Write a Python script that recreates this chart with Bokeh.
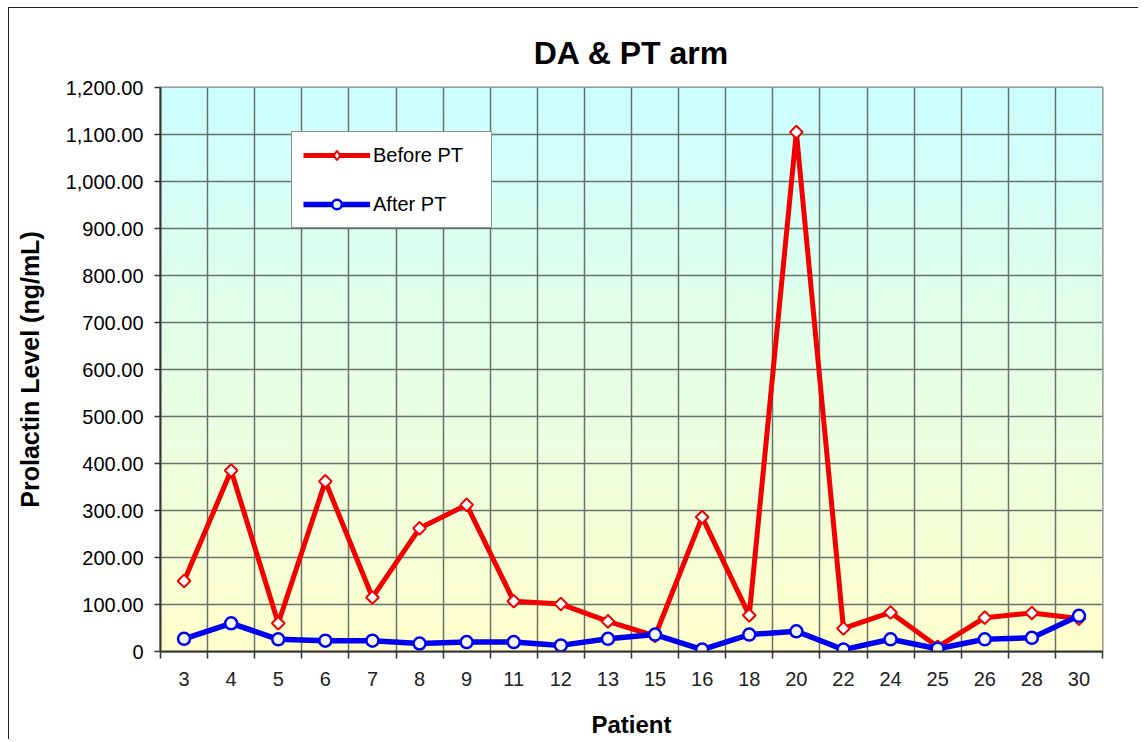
import numpy as np
from bokeh.plotting import figure
from bokeh.models import Range1d, FixedTicker, Legend, LegendItem
from bokeh.embed import file_html
from bokeh.resources import INLINE

# ---- data ----
patients = ["3", "4", "5", "6", "7", "8", "9", "11", "12", "13",
            "15", "16", "18", "20", "22", "24", "25", "26", "28", "30"]
before_pt = [150, 385, 60, 362, 115, 262, 312, 107, 101, 64,
             33, 286, 77, 1105, 49, 83, 10, 72, 82, 70]
after_pt = [27, 60, 26, 23, 23, 17, 20, 20, 13, 27,
            36, 4, 36, 43, 4, 26, 6, 26, 29, 76]
y_ticks = [0, 100, 200, 300, 400, 500, 600, 700, 800, 900, 1000, 1100, 1200]
y_tick_labels = ["0", "100.00", "200.00", "300.00", "400.00", "500.00", "600.00",
                 "700.00", "800.00", "900.00", "1,000.00", "1,100.00", "1,200.00"]

n = len(patients)
xc = [i + 0.5 for i in range(n)]
y_max = y_ticks[-1]

FONT = "Liberation Sans"
GRID = "#68716d"

p = figure(width=1130, height=732, output_backend="svg", toolbar_location=None,
           x_range=Range1d(0, n), y_range=Range1d(0, y_max),
           min_border_left=151, min_border_right=37, min_border_top=79, min_border_bottom=89,
           title="DA & PT arm")
p.styles = {"border-left": "1px solid #222", "border-top": "1px solid #222",
            "margin-left": "8px", "margin-top": "7px"}

# gradient background (cyan top -> light yellow bottom)
N = 256
img = np.empty((N, 2), dtype=np.uint32)
view = img.view(dtype=np.uint8).reshape((N, 2, 4))
top = np.array([204, 255, 255])
bot = np.array([255, 255, 204])
for r in range(N):
    t = r / (N - 1)
    c = bot * (1 - t) + top * t
    view[r, :, 0] = int(c[0])
    view[r, :, 1] = int(c[1])
    view[r, :, 2] = int(c[2])
    view[r, :, 3] = 255
p.image_rgba(image=[img], x=0, y=0, dw=n, dh=y_max, level="image")

# title
p.title.text_font = FONT
p.title.text_font_size = "32px"
p.title.text_font_style = "bold"
p.title.text_color = "#000000"
p.title.align = "center"
p.title.standoff = 34

p.outline_line_color = "#808080"
p.outline_line_width = 2

# x axis: labels at centres, ticks/grid at boundaries
xt = FixedTicker(ticks=xc, minor_ticks=list(range(n + 1)))
p.xaxis.ticker = xt
p.xaxis.major_label_overrides = {x: lab for x, lab in zip(xc, patients)}
p.xaxis.major_tick_line_color = None
p.xaxis.minor_tick_line_color = "#333333"
p.xaxis.minor_tick_line_width = 1.5
p.xaxis.minor_tick_out = 7
p.xaxis.minor_tick_in = 0
p.xaxis.axis_line_color = "#333333"
p.xaxis.axis_line_width = 2
p.xaxis.major_label_text_font = FONT
p.xaxis.major_label_text_font_size = "20px"
p.xaxis.major_label_text_color = "#222222"
p.xaxis.major_label_standoff = 13
p.xaxis.axis_label = "Patient"
p.xaxis.axis_label_text_font = FONT
p.xaxis.axis_label_text_font_size = "24px"
p.xaxis.axis_label_text_font_style = "bold"
p.xaxis.axis_label_text_color = "#000000"
p.xaxis.axis_label_standoff = 22
p.xgrid.grid_line_color = None
p.xgrid.minor_grid_line_color = GRID
p.xgrid.minor_grid_line_width = 1.5

# y axis
p.yaxis.ticker = FixedTicker(ticks=y_ticks)
p.yaxis.major_label_overrides = {v: s for v, s in zip(y_ticks, y_tick_labels)}
p.yaxis.minor_tick_line_color = None
p.yaxis.major_tick_line_color = "#333333"
p.yaxis.major_tick_line_width = 1.5
p.yaxis.major_tick_out = 6
p.yaxis.major_tick_in = 0
p.yaxis.axis_line_color = "#333333"
p.yaxis.axis_line_width = 2
p.yaxis.major_label_text_font = FONT
p.yaxis.major_label_text_font_size = "20px"
p.yaxis.major_label_text_color = "#000000"
p.yaxis.major_label_standoff = 11
p.yaxis.axis_label = "Prolactin Level (ng/mL)"
p.yaxis.axis_label_text_font = FONT
p.yaxis.axis_label_text_font_size = "25px"
p.yaxis.axis_label_text_font_style = "bold"
p.yaxis.axis_label_text_color = "#000000"
p.yaxis.axis_label_standoff = 19
p.ygrid.grid_line_color = GRID
p.ygrid.grid_line_width = 1.5

# series
RED = "#f20000"
BLUE = "#0000f0"
l1 = p.line(xc, before_pt, line_color=RED, line_width=5)
s1 = p.scatter(xc, before_pt, marker="square", angle=np.pi / 4, size=9,
               fill_color="white", line_color=RED, line_width=2)
l2 = p.line(xc, after_pt, line_color=BLUE, line_width=5.5)
s2 = p.scatter(xc, after_pt, marker="circle", size=12,
               fill_color="#f4f6ff", line_color=BLUE, line_width=2.5)
# legend-only diamond glyph (single undrawn NaN point)
s1_leg = p.scatter(x=[float("nan")], y=[float("nan")], marker="diamond", size=16,
                   fill_color="white", line_color=RED, line_width=2)

legend = Legend(items=[LegendItem(label="Before PT", renderers=[l1, s1_leg]),
                       LegendItem(label="After PT", renderers=[l2, s2])],
                location=(131, 423))
legend.label_text_font = FONT
legend.label_text_font_size = "20px"
legend.label_text_color = "#000000"
legend.glyph_width = 67
legend.glyph_height = 24
legend.label_height = 24
legend.label_width = 107
legend.label_standoff = 3
legend.padding = 11
legend.spacing = 25
legend.margin = 0
legend.border_line_color = "#222222"
legend.border_line_width = 1
legend.background_fill_color = "white"
legend.background_fill_alpha = 1.0
p.add_layout(legend)

open("out.html", "w").write(file_html(p, INLINE))
